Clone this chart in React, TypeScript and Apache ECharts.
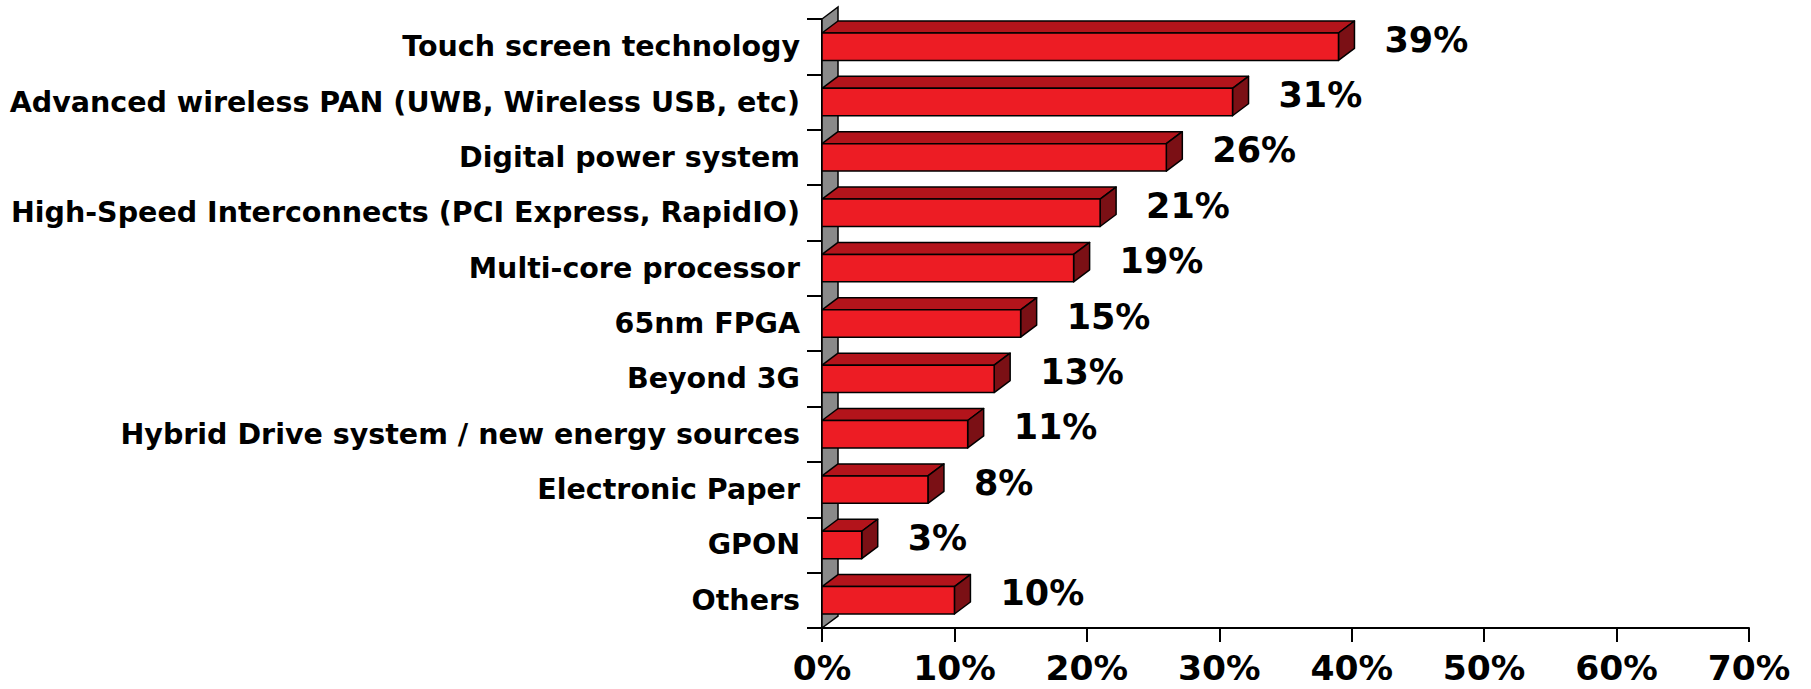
import React, { useEffect, useRef } from 'react';
import * as echarts from 'echarts';

const categories = [
  'Touch screen technology',
  'Advanced wireless PAN (UWB, Wireless USB, etc)',
  'Digital power system',
  'High-Speed Interconnects (PCI Express, RapidIO)',
  'Multi-core processor',
  '65nm FPGA',
  'Beyond 3G',
  'Hybrid Drive system / new energy sources',
  'Electronic Paper',
  'GPON',
  'Others',
];
const values = [39, 31, 26, 21, 19, 15, 13, 11, 8, 3, 10];
const axisMin = 0;
const axisMax = 70;
const axisStep = 10;

const DX = 16;
const DY = 12;
const FRONT = '#ED1C24';
const TOP = '#B3141B';
const SIDE = '#7B1015';
const WALL = '#8A8A8A';
const FONT = 'DejaVu Sans, Verdana, sans-serif';

export default function App() {
  const ref = useRef<HTMLDivElement>(null);
  useEffect(() => {
    const chart = echarts.init(ref.current!, null, { renderer: 'svg' });
    const barData = values.map((v, i) => [v, i]);
    chart.setOption({
      animation: false,
      backgroundColor: '#ffffff',
      grid: { left: 822, right: 62, top: 19, bottom: 61, containLabel: false },
      xAxis: {
        type: 'value',
        min: axisMin,
        max: axisMax,
        interval: axisStep,
        axisLine: { show: true, lineStyle: { color: '#000', width: 2 } },
        axisTick: { show: true, length: 14, lineStyle: { color: '#000', width: 2 } },
        splitLine: { show: false },
        axisLabel: {
          formatter: '{value}%',
          color: '#000',
          fontFamily: FONT,
          fontWeight: 'bold',
          fontSize: 34.5,
          lineHeight: 30,
          margin: 25,
        },
      },
      yAxis: {
        type: 'category',
        data: categories,
        inverse: true,
        axisLine: { show: true, lineStyle: { color: '#000', width: 2 } },
        axisTick: { show: true, length: 15, lineStyle: { color: '#000', width: 2 } },
        axisLabel: {
          color: '#000',
          fontFamily: FONT,
          fontWeight: 'bold',
          fontSize: 28.5,
          margin: 22,
        },
      },
      series: [
        {
          type: 'custom',
          z: 1,
          data: [[0, 0]],
          encode: { x: 0, y: 1 },
          renderItem: (params: any) => {
            const cs = params.coordSys;
            const x = cs.x, y = cs.y, h = cs.height;
            return {
              type: 'polygon',
              shape: {
                points: [
                  [x, y + h],
                  [x + DX, y + h - DY],
                  [x + DX, y - DY],
                  [x, y],
                ],
              },
              style: { fill: WALL, stroke: '#000', lineWidth: 1.5 },
            };
          },
        },
        {
          type: 'custom',
          z: 3,
          data: barData,
          encode: { x: 0, y: 1 },
          renderItem: (params: any, api: any) => {
            const v = api.value(0);
            const c = api.value(1);
            const s = api.coord([0, c]);
            const e = api.coord([v, c]);
            const band = api.size([0, 1])[1];
            const hh = band * 0.495;
            const x0 = s[0];
            const x1 = e[0];
            const yT = s[1] - hh / 2;
            const yB = s[1] + hh / 2;
            const line = { stroke: '#000', lineWidth: 1.5, lineJoin: 'round' };
            return {
              type: 'group',
              children: [
                {
                  type: 'polygon',
                  shape: { points: [[x0, yT], [x0 + DX, yT - DY], [x1 + DX, yT - DY], [x1, yT]] },
                  style: { fill: TOP, ...line },
                },
                {
                  type: 'polygon',
                  shape: { points: [[x1, yT], [x1 + DX, yT - DY], [x1 + DX, yB - DY], [x1, yB]] },
                  style: { fill: SIDE, ...line },
                },
                {
                  type: 'rect',
                  shape: { x: x0, y: yT, width: x1 - x0, height: hh },
                  style: { fill: FRONT, ...line },
                },
                {
                  type: 'text',
                  style: {
                    text: v + '%',
                    x: x1 + DX + 30,
                    y: s[1] - 7,
                    fill: '#000',
                    fontFamily: FONT,
                    fontWeight: 'bold',
                    fontSize: 35,
                    align: 'left',
                    verticalAlign: 'middle',
                  },
                },
              ],
            };
          },
        },
      ],
    });
    return () => chart.dispose();
  }, []);
  return (
    <div
      ref={ref}
      style={{ position: 'absolute', left: 0, top: 0, width: 1811, height: 689 }}
    />
  );
}
